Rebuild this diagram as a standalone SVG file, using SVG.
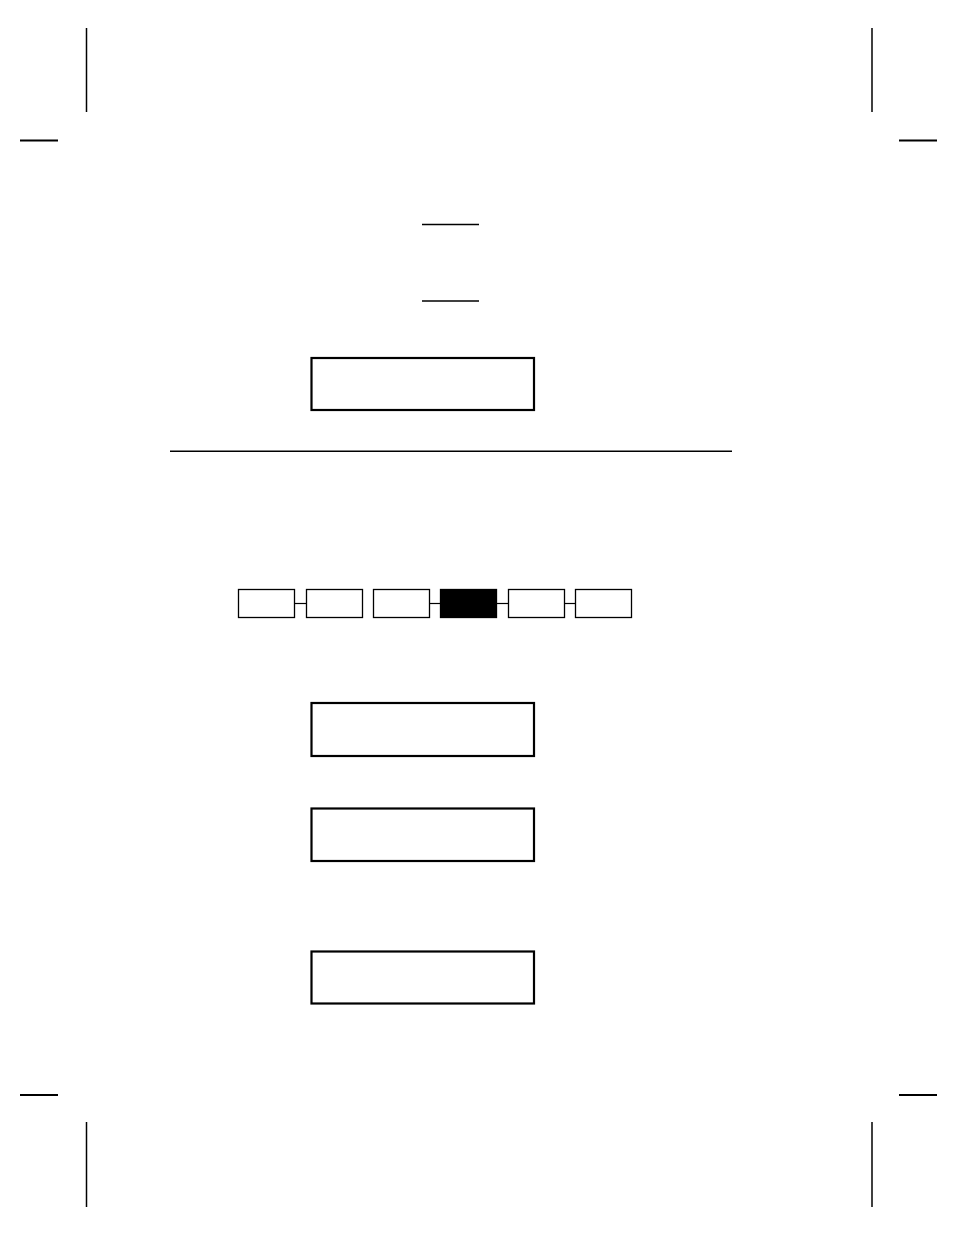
<svg xmlns="http://www.w3.org/2000/svg" width="954" height="1235" viewBox="0 0 954 1235">
<style>
.bg{fill:#fff}
.crop{stroke:#000;fill:none}
.big{fill:#fff;stroke:#000;stroke-width:2.2}
.small{fill:#fff;stroke:#000;stroke-width:1.3}
.dark{fill:#000;stroke:#000;stroke-width:1.3}
.rule{stroke:#000;stroke-width:1.4;fill:none}
.conn{stroke:#000;stroke-width:1.2;fill:none}
</style>
<rect class="bg" x="0" y="0" width="954" height="1235"/>
<g id="crop-marks">
<line class="crop" stroke-width="1.5" x1="86.5" y1="28" x2="86.5" y2="112"/>
<line class="crop" stroke-width="2" x1="20" y1="140.5" x2="58" y2="140.5"/>
<line class="crop" stroke-width="1.5" x1="872" y1="28" x2="872" y2="112"/>
<line class="crop" stroke-width="2" x1="899" y1="140.5" x2="937" y2="140.5"/>
<line class="crop" stroke-width="2" x1="20" y1="1095" x2="58" y2="1095"/>
<line class="crop" stroke-width="1.5" x1="86.5" y1="1122" x2="86.5" y2="1207"/>
<line class="crop" stroke-width="2" x1="899" y1="1095" x2="937" y2="1095"/>
<line class="crop" stroke-width="1.5" x1="872" y1="1122" x2="872" y2="1207"/>
</g>
<g id="blanks">
<line class="rule" x1="422" y1="224.5" x2="479" y2="224.5"/>
<line class="rule" x1="422" y1="301" x2="479" y2="301"/>
</g>
<g id="display1"><rect class="big" x="311.5" y="358" width="222.5" height="52"/></g>
<g id="separator"><line class="rule" x1="170" y1="451.3" x2="732" y2="451.3"/></g>
<g id="connectors">
<line class="conn" x1="294.3" y1="603.5" x2="306.3" y2="603.5"/>
<line class="conn" x1="429.3" y1="603.5" x2="440.3" y2="603.5"/>
<line class="conn" x1="496.7" y1="603.5" x2="508.3" y2="603.5"/>
<line class="conn" x1="564.3" y1="603.5" x2="575.3" y2="603.5"/>
</g>
<g id="key1"><rect class="small" x="238.5" y="589.5" width="56" height="28"/></g>
<g id="key2"><rect class="small" x="306.5" y="589.5" width="56" height="28"/></g>
<g id="key3"><rect class="small" x="373.5" y="589.5" width="56" height="28"/></g>
<g id="key4"><rect class="dark" x="440.5" y="589.5" width="56" height="28"/></g>
<g id="key5"><rect class="small" x="508.5" y="589.5" width="56" height="28"/></g>
<g id="key6"><rect class="small" x="575.5" y="589.5" width="56" height="28"/></g>
<g id="display2"><rect class="big" x="311.5" y="703" width="222.5" height="53"/></g>
<g id="display3"><rect class="big" x="311.5" y="808.5" width="222.5" height="52.5"/></g>
<g id="display4"><rect class="big" x="311.5" y="951.5" width="222.5" height="52"/></g>
</svg>
